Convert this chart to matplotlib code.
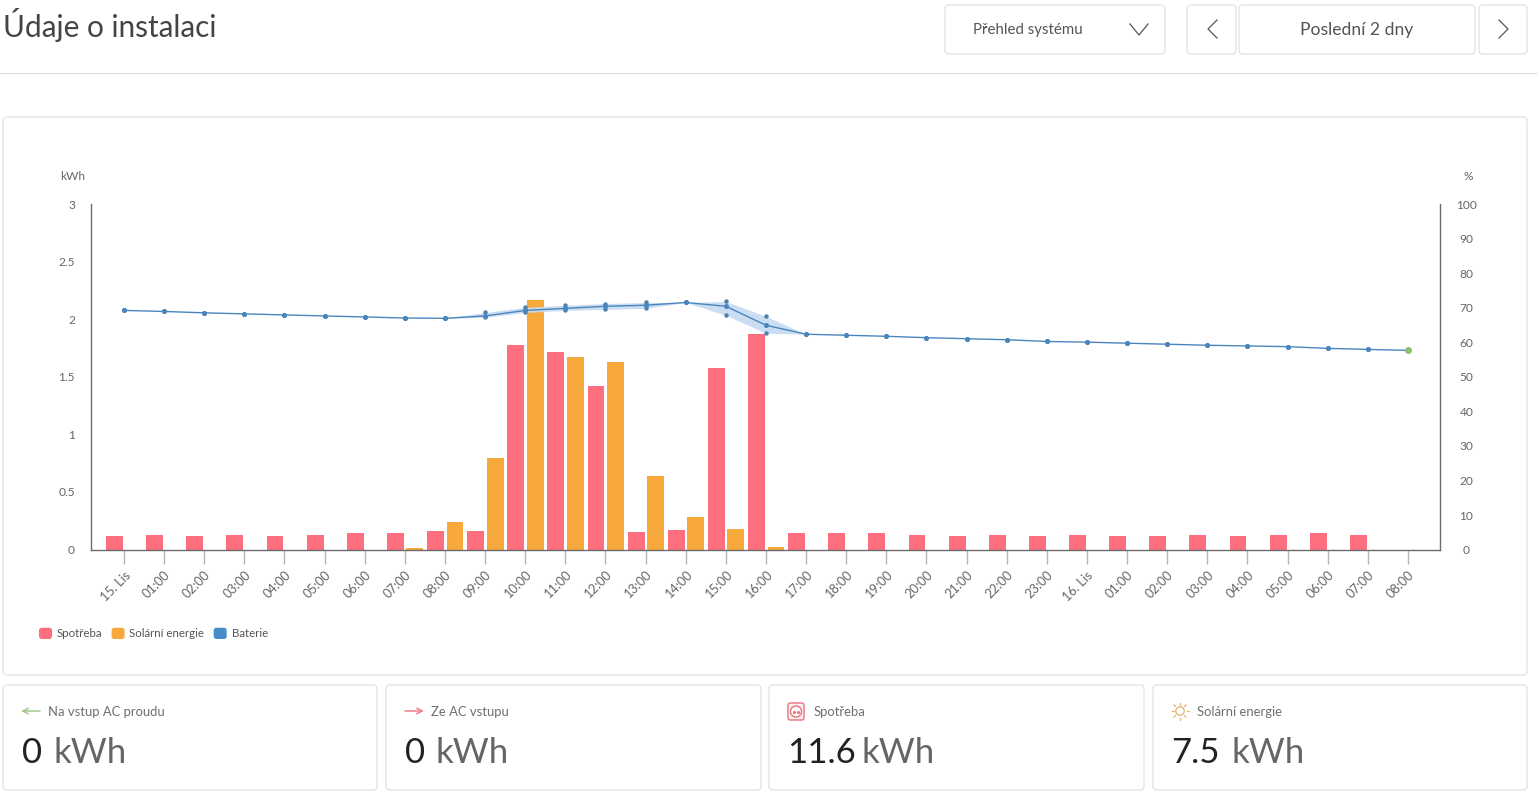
import matplotlib
matplotlib.use("Agg")
import matplotlib.pyplot as plt
from matplotlib.patches import FancyBboxPatch, Patch, Circle
from matplotlib.legend_handler import HandlerPatch
from matplotlib.transforms import ScaledTranslation
import numpy as np

plt.rcParams['font.family'] = ['Lato', 'DejaVu Sans']

hours = ["15. Lis", "01:00", "02:00", "03:00", "04:00", "05:00", "06:00", "07:00", "08:00", "09:00",
         "10:00", "11:00", "12:00", "13:00", "14:00", "15:00", "16:00", "17:00", "18:00", "19:00",
         "20:00", "21:00", "22:00", "23:00", "16. Lis", "01:00", "02:00", "03:00", "04:00", "05:00",
         "06:00", "07:00", "08:00"]
consumption = [0.12, 0.13, 0.12, 0.13, 0.12, 0.13, 0.14, 0.14, 0.16, 0.16, 1.78, 1.72, 1.42, 0.15, 0.17, 1.58,
               1.87, 0.14, 0.14, 0.14, 0.13, 0.12, 0.13, 0.12, 0.13, 0.12, 0.12, 0.13, 0.12, 0.13, 0.14, 0.13, 0]
solar = [0, 0, 0, 0, 0, 0, 0, 0.015, 0.24, 0.80, 2.17, 1.67, 1.63, 0.64, 0.28, 0.18,
         0.025, 0, 0, 0, 0, 0, 0, 0, 0, 0, 0, 0, 0, 0, 0, 0, 0]
battery = [69.3, 69.0, 68.6, 68.3, 68.0, 67.7, 67.4, 67.1, 67.0, 67.7, 69.3, 69.9, 70.5, 70.8, 71.6, 70.5,
           65.0, 62.4, 62.1, 61.8, 61.4, 61.1, 60.8, 60.3, 60.1, 59.8, 59.5, 59.2, 59.0, 58.8, 58.3, 58.0, 57.7]
battery_min = [69.3, 69.0, 68.6, 68.3, 68.0, 67.7, 67.4, 67.1, 67.0, 67.3, 68.7, 69.3, 69.6, 69.9, 71.6, 67.9,
               62.7, 62.4, 62.1, 61.8, 61.4, 61.1, 60.8, 60.3, 60.1, 59.8, 59.5, 59.2, 59.0, 58.8, 58.3, 58.0, 57.7]
battery_max = [69.3, 69.0, 68.6, 68.3, 68.0, 67.7, 67.4, 67.1, 67.0, 68.7, 70.2, 70.8, 71.3, 71.6, 71.6, 71.9,
               67.6, 62.4, 62.1, 61.8, 61.4, 61.1, 60.8, 60.3, 60.1, 59.8, 59.5, 59.2, 59.0, 58.8, 58.3, 58.0, 57.7]
kwh_ticks = [0, 0.5, 1, 1.5, 2, 2.5, 3]
kwh_labels = ["0", "0.5", "1", "1.5", "2", "2.5", "3"]
pct_ticks = list(range(0, 101, 10))
cards = [("Na vstup AC proudu", "0"), ("Ze AC vstupu", "0"), ("Spotřeba", "11.6"), ("Solární energie", "7.5")]

PINK, ORANGE, BLUE, GREEN = "#fd6f7f", "#f7a93b", "#4a8cc9", "#8cc06a"
AXC, TXT, BORDER = "#6b6b6b", "#666666", "#dedede"
W, H = 1538, 796
fig = plt.figure(figsize=(W / 100, H / 100), dpi=100, facecolor="white")


def rect(x0, y0, x1, y1):
    return [x0 / W, 1 - y1 / H, (x1 - x0) / W, (y1 - y0) / H]


# page layer in pixel coordinates
ui = fig.add_axes([0, 0, 1, 1], zorder=0)
ui.set_xlim(0, W)
ui.set_ylim(H, 0)
ui.axis("off")


def box(x0, y0, x1, y1, r=4):
    ui.add_patch(FancyBboxPatch((x0 + r, y0 + r), x1 - x0 - 2 * r, y1 - y0 - 2 * r,
                                boxstyle=f"round,pad={r},rounding_size={r}",
                                fc="white", ec=BORDER, lw=0.8))


ui.text(3, 25.5, "Údaje o instalaci", fontsize=21.4, color="#444444", va="center", ha="left")
ui.plot([0, W], [72.5, 72.5], color=BORDER, lw=0.8)
box(945, 5, 1165, 54)
box(1187, 5, 1236, 54)
box(1239, 5, 1475, 54)
box(1479, 5, 1527, 54)
ui.text(973, 30, "Přehled systému", fontsize=10.8, color="#555555", va="center")
ui.text(1357, 30, "Poslední 2 dny", fontsize=12.6, color="#555555", va="center", ha="center")
ui.plot([1130, 1139, 1148], [24, 35, 24], color="#555555", lw=0.9)
ui.plot([1217, 1208, 1217], [20, 29, 38], color="#555555", lw=0.9)
ui.plot([1499, 1508, 1499], [20, 29, 38], color="#555555", lw=0.9)
box(3, 117, 1527, 675)

card_x = [(3, 377), (386, 761), (769, 1144), (1153, 1527)]
text_x = [48, 431, 814, 1197]
val_x = [22, 405, 787, 1171]
unit_x = [53, 436, 862, 1232]
for (x0, x1), tx, vx, ux, (name, val) in zip(card_x, text_x, val_x, unit_x, cards):
    box(x0, 685, x1, 790)
    ui.text(tx, 712, name, fontsize=9.4, color="#6e6e6e", va="center")
    ui.text(vx, 753, val, fontsize=25, color="#222222", va="center")
    ui.text(ux, 753, "kWh", fontsize=25, color="#666666", va="center")

# card icons
ui.annotate("", xy=(21, 711), xytext=(40, 711), arrowprops=dict(arrowstyle="->", color="#a3c78e", lw=1.1, shrinkA=0, shrinkB=0))
ui.annotate("", xy=(424, 711), xytext=(405, 711), arrowprops=dict(arrowstyle="->", color="#e8838a", lw=1.1, shrinkA=0, shrinkB=0))
ui.add_patch(FancyBboxPatch((790, 705), 12, 13, boxstyle="round,pad=2,rounding_size=2", fc="#fdeeee", ec="#e8737b", lw=1))
ui.add_patch(Circle((796, 711.5), 5.5, fc="white", ec="#e8737b", lw=1))
ui.plot([794, 798], [711.5, 711.5], ls="none", marker="o", ms=1.3, color="#e8737b")
ui.add_patch(Circle((1180, 711), 4.2, fc="none", ec="#e5b36c", lw=0.9))
for a in np.arange(8) * np.pi / 4:
    ui.plot([1180 + 6.5 * np.cos(a), 1180 + 8.5 * np.cos(a)], [711 + 6.5 * np.sin(a), 711 + 8.5 * np.sin(a)],
            color="#e5b36c", lw=0.9)

# chart
ax = fig.add_axes(rect(91, 204.5, 1440, 549.5), zorder=2)
ax.patch.set_alpha(0)
x = np.arange(len(hours))
bw = 0.42
ax.bar(x - 0.235, consumption, width=bw, color=PINK, zorder=2)
ax.bar(x + 0.25, solar, width=bw, color=ORANGE, zorder=2)
ax.set_xlim(-0.822, 32.8)
ax.set_ylim(0, 3)
ax.set_yticks(kwh_ticks, kwh_labels)
ax.set_xticks(x, hours)
ax.tick_params(axis="y", length=0, pad=16, labelsize=8.6, labelcolor=TXT)
ax.tick_params(axis="x", length=10, width=1, color="#b5b5b5", pad=4, labelsize=9.2, labelcolor=TXT)
for lab in ax.get_xticklabels():
    lab.set_rotation(45)
    lab.set_ha("right")
    lab.set_rotation_mode("anchor")
for lab in ax.get_yticklabels():
    lab.set_transform(lab.get_transform() + ScaledTranslation(4.5 / 72, 0, fig.dpi_scale_trans))
for s in ("top", "right"):
    ax.spines[s].set_visible(False)
for s in ("left", "bottom"):
    ax.spines[s].set_color(AXC)
    ax.spines[s].set_linewidth(1)

ax2 = ax.twinx()
ax2.set_zorder(3)
ax2.patch.set_alpha(0)
ax2.set_ylim(0, 100)
ax2.set_yticks(pct_ticks)
ax2.tick_params(axis="y", length=0, pad=19, labelsize=8.6, labelcolor=TXT)
for lab in ax2.get_yticklabels():
    lab.set_ha("center")
for s in ("top", "left", "bottom"):
    ax2.spines[s].set_visible(False)
ax2.spines["right"].set_color(AXC)
ax2.spines["right"].set_linewidth(1)

ax2.fill_between(x, battery_min, battery_max, color="#c5daf1", lw=0, alpha=0.9, zorder=2)
ax2.plot(x, battery, color="#4a86bd", lw=1.0, marker="o", ms=2.6, zorder=4)
ax2.plot(x, battery_min, ls="none", marker="o", ms=2.2, color="#4f80aa", zorder=3)
ax2.plot(x, battery_max, ls="none", marker="o", ms=2.2, color="#4f80aa", zorder=3)
ax2.plot(x[-1:], battery[-1:], ls="none", marker="o", ms=4, color=GREEN, zorder=5)

ui.text(73, 176.5, "kWh", fontsize=8.6, color=TXT, ha="center", va="center")
ui.text(1468, 176.5, "%", fontsize=8.6, color=TXT, ha="center", va="center")


class RoundHandler(HandlerPatch):
    def create_artists(self, legend, orig_handle, xdescent, ydescent, width, height, fontsize, trans):
        r = 2
        p = FancyBboxPatch((r - xdescent, r - ydescent), width - 2 * r, height - 2 * r,
                           boxstyle=f"round,pad={r},rounding_size={r}", fc=orig_handle.get_facecolor(), ec="none")
        p.set_transform(trans)
        return [p]


handles = [Patch(fc=PINK, label="Spotřeba"), Patch(fc=ORANGE, label="Solární energie"), Patch(fc=BLUE, label="Baterie")]
fig.legend(handles=handles, loc="center left", bbox_to_anchor=(39 / W, 1 - 633.5 / H), ncol=3, frameon=False,
           fontsize=8.3, handlelength=1.13, handleheight=1.13, handletextpad=0.42, columnspacing=0.8,
           labelcolor="#555555", borderpad=0, borderaxespad=0, handler_map={Patch: RoundHandler()})

fig.savefig("out.png", dpi=100, facecolor="white")
